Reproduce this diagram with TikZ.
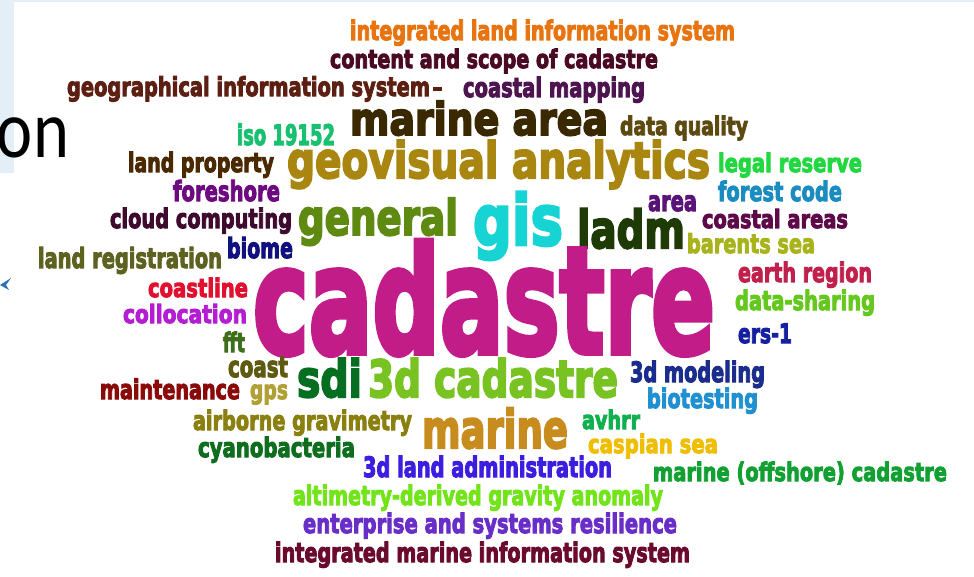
\documentclass[tikz,border=0pt]{standalone}
\usepackage{fontspec}
\usepackage{graphicx}
\newfontfamily\cloudfont{DejaVu Sans}[BoldFeatures={FakeBold=4}]
\newfontfamily\slidefont{Carlito}
\definecolor{slidebg}{HTML}{E4EEF7}
\definecolor{cIland}{HTML}{E8740F}
\definecolor{cContent}{HTML}{4A0A24}
\definecolor{cGeo}{HTML}{5C1F12}
\definecolor{cCmap}{HTML}{4E1450}
\definecolor{cMarea}{HTML}{3A2800}
\definecolor{cIso}{HTML}{18C070}
\definecolor{cDataq}{HTML}{5C4A10}
\definecolor{cLprop}{HTML}{4A2800}
\definecolor{cGeovis}{HTML}{A8860F}
\definecolor{cLegal}{HTML}{22D840}
\definecolor{cFore}{HTML}{6E0A80}
\definecolor{cForest}{HTML}{1A8CC0}
\definecolor{cArea}{HTML}{5A1478}
\definecolor{cCloud}{HTML}{3E0A2E}
\definecolor{cGeneral}{HTML}{5E8A12}
\definecolor{cGis}{HTML}{16D4D4}
\definecolor{cLadm}{HTML}{1E3A06}
\definecolor{cCareas}{HTML}{5E0A48}
\definecolor{cLreg}{HTML}{5E6220}
\definecolor{cBiome}{HTML}{10107E}
\definecolor{cBarents}{HTML}{A8B41C}
\definecolor{cCadastre}{HTML}{C21C88}
\definecolor{cEarth}{HTML}{C0204C}
\definecolor{cCline}{HTML}{E0102E}
\definecolor{cDshare}{HTML}{64C81E}
\definecolor{cColloc}{HTML}{B41ED2}
\definecolor{cErs}{HTML}{1420A0}
\definecolor{cFft}{HTML}{3E6E1C}
\definecolor{cCoast}{HTML}{5E5A10}
\definecolor{cSdi}{HTML}{066E20}
\definecolor{cTdcad}{HTML}{78C222}
\definecolor{cTdmod}{HTML}{1A2C8C}
\definecolor{cMaint}{HTML}{8A0A0A}
\definecolor{cGps}{HTML}{B0A036}
\definecolor{cBiotest}{HTML}{2090D0}
\definecolor{cAirborne}{HTML}{8A8010}
\definecolor{cMarine}{HTML}{C88C1E}
\definecolor{cAvhrr}{HTML}{10B050}
\definecolor{cCyano}{HTML}{0E6E1E}
\definecolor{cCaspian}{HTML}{F0BE00}
\definecolor{cTdland}{HTML}{3C1EE0}
\definecolor{cOffshore}{HTML}{12A032}
\definecolor{cAltim}{HTML}{72E41A}
\definecolor{cEnterp}{HTML}{6A2EC8}
\definecolor{cImis}{HTML}{6A0A2C}
\definecolor{cMark}{HTML}{2A70B8}
\newcommand{\fitw}[2]{\resizebox{#1pt}{\height}{#2}}
\tikzstyle{word} = [anchor=base west, inner sep=0pt, outer sep=0pt]
\tikzset{cw/.style 2 args={word, font=\cloudfont\bfseries\fontsize{#1}{#1}\selectfont, text=#2}}

\begin{document}
\begin{tikzpicture}[x=1pt, y=-1pt]
        \useasboundingbox (0,0) rectangle (974,577);
        \fill[white] (0,0) rectangle (974,577);
        \fill[slidebg] (0,0) rectangle (974,2);
        \fill[slidebg] (0,0) rectangle (14,173);
        \fill[cMark] (0,285) -- (11,278) -- (6,285) -- (9,290) -- cycle;

        \node[word, font=\slidefont\fontsize{82}{82}\selectfont, text=black] (title) at (-3,158) {\fitw{72}{on}};

        \node[cw={26.7}{cIland}] (iland) at (350,40) {\fitw{385}{integrated land information system}};
        \node[cw={25.4}{cContent}] (content) at (330,68) {\fitw{328}{content and scope of cadastre}};
        \node[cw={26}{cGeo}] (geoinfo) at (67,96) {\fitw{363}{geographical information system}};
        \fill[cGeo] (433,87) rectangle (442,91);
        \node[cw={26.7}{cCmap}] (cmap) at (463,97) {\fitw{182}{coastal mapping}};
        \node[cw={45}{cMarea}] (marea) at (350,135) {\fitw{258}{marine area}};
        \node[cw={28.3}{cIso}] (iso) at (237,145) {\fitw{98}{iso 19152}};
        \node[cw={25.4}{cDataq}] (dataq) at (620,135) {\fitw{128}{data quality}};
        \node[cw={26.7}{cLprop}] (lprop) at (128,172) {\fitw{146}{land property}};
        \node[cw={50}{cGeovis}] (geovis) at (287,178) {\fitw{423}{geovisual analytics}};
        \node[cw={25.4}{cLegal}] (legal) at (718,172) {\fitw{144}{legal reserve}};
        \node[cw={27.8}{cFore}] (fore) at (173,201) {\fitw{107}{foreshore}};
        \node[cw={26.9}{cForest}] (forest) at (718,201) {\fitw{124}{forest code}};
        \node[cw={28}{cArea}] (area) at (648,211) {\fitw{49}{area}};
        \node[cw={26.7}{cCloud}] (cloud) at (110,228) {\fitw{182}{cloud computing}};
        \node[cw={49}{cGeneral}] (general) at (298,235) {\fitw{160}{general}};
        \node[cw={70}{cGis}] (gis) at (473,245) {\fitw{90}{gis}};
        \node[cw={52}{cLadm}] (ladm) at (577,248) {\fitw{108}{ladm}};
        \node[cw={25}{cCareas}] (careas) at (702,228) {\fitw{146}{coastal areas}};
        \node[cw={27.8}{cLreg}] (lreg) at (38,268) {\fitw{184}{land registration}};
        \node[cw={27.8}{cBiome}] (biome) at (227,258) {\fitw{66}{biome}};
        \node[cw={26.2}{cBarents}] (barents) at (687,253) {\fitw{128}{barents sea}};
        \node[cw={148}{cCadastre}] (cadastre) at (253,353) {\fitw{462}{cadastre}};
        \node[cw={26.7}{cEarth}] (earth) at (738,282) {\fitw{134}{earth region}};
        \node[cw={25.4}{cCline}] (cline) at (148,297) {\fitw{100}{coastline}};
        \node[cw={26.7}{cDshare}] (dshare) at (735,310) {\fitw{140}{data-sharing}};
        \node[cw={25}{cColloc}] (colloc) at (123,323) {\fitw{124}{collocation}};
        \node[cw={26.7}{cErs}] (ers) at (738,343) {\fitw{54}{ers-1}};
        \node[cw={26.7}{cFft}] (fft) at (223,352) {\fitw{22}{fft}};
        \node[cw={29}{cCoast}] (coast) at (228,377) {\fitw{60}{coast}};
        \node[cw={51}{cSdi}] (sdi) at (297,397) {\fitw{65}{sdi}};
        \node[cw={51}{cTdcad}] (tdcad) at (368,397) {\fitw{250}{3d cadastre}};
        \node[cw={28}{cTdmod}] (tdmod) at (630,382) {\fitw{135}{3d modeling}};
        \node[cw={27}{cMaint}] (maint) at (100,399) {\fitw{140}{maintenance}};
        \node[cw={26}{cGps}] (gps) at (250,399) {\fitw{38}{gps}};
        \node[cw={26.7}{cBiotest}] (biotest) at (647,408) {\fitw{111}{biotesting}};
        \node[cw={26.7}{cAirborne}] (airborne) at (193,430) {\fitw{219}{airborne gravimetry}};
        \node[cw={53}{cMarine}] (marine) at (422,448) {\fitw{146}{marine}};
        \node[cw={25.4}{cAvhrr}] (avhrr) at (582,429) {\fitw{58}{avhrr}};
        \node[cw={26.7}{cCyano}] (cyano) at (198,457) {\fitw{157}{cyanobacteria}};
        \node[cw={25.4}{cCaspian}] (caspian) at (588,453) {\fitw{130}{caspian sea}};
        \node[cw={28}{cTdland}] (tdland) at (363,477) {\fitw{249}{3d land administration}};
        \node[cw={25.4}{cOffshore}] (offshore) at (653,481) {\fitw{294}{marine (offshore) cadastre}};
        \node[cw={26.7}{cAltim}] (altim) at (293,505) {\fitw{370}{altimetry-derived gravity anomaly}};
        \node[cw={26.7}{cEnterp}] (enterp) at (303,533) {\fitw{374}{enterprise and systems resilience}};
        \node[cw={26.7}{cImis}] (imis) at (275,562) {\fitw{415}{integrated marine information system}};
\end{tikzpicture}
\end{document}
